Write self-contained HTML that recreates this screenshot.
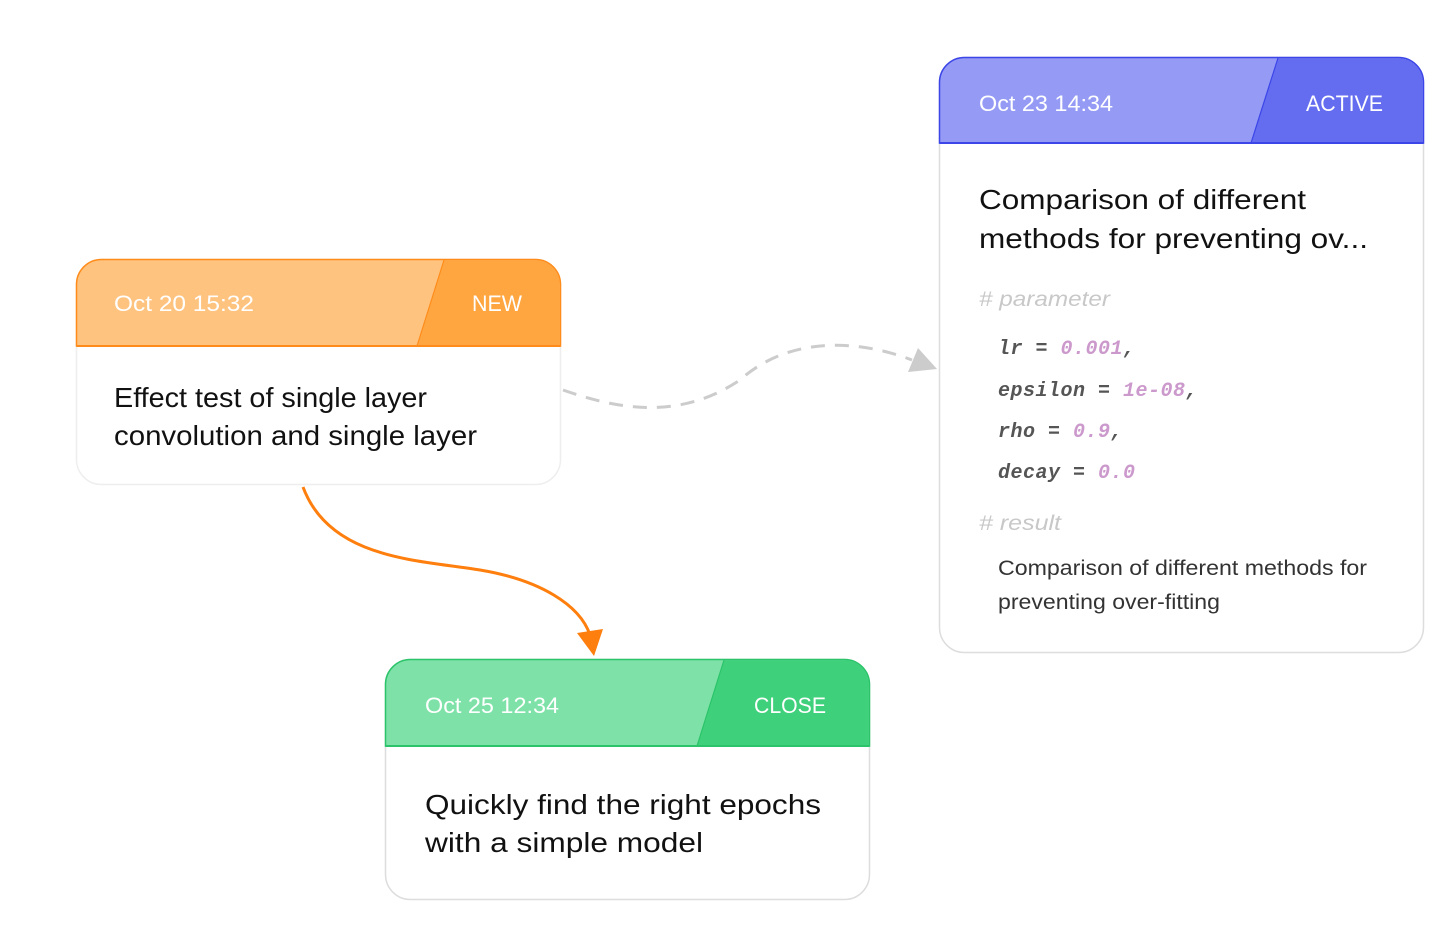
<!DOCTYPE html>
<html><head><meta charset="utf-8"><style>
html,body{margin:0;padding:0;background:#fff}
svg text{font-family:"Liberation Sans",sans-serif}
.code{font-family:"Liberation Mono",monospace;font-weight:bold;font-style:italic;font-size:20px;letter-spacing:0.5px}
</style></head><body>
<svg width="1452" height="932" viewBox="0 0 1452 932">
<!-- connectors -->
<path d="M563,390 C620,410 680,420 740,380 C790,335 860,340 912,360" fill="none" stroke="#ccc" stroke-width="3" stroke-dasharray="14,10"/>
<path d="M908,372 L937,369 L918,348 Z" fill="#ccc"/>
<path d="M303,487 C330,560 420,560 480,570 C540,580 580,605 590,635" fill="none" stroke="#FF7F0E" stroke-width="3"/>
<path d="M577,633 L603,629 L594,656 Z" fill="#FF7F0E"/>

<!-- orange card -->
<g>
<rect x="76.5" y="259.5" width="484" height="225" rx="25" fill="#fff" stroke="#eee" stroke-width="1.5"/>
<path d="M76.5,346 V284.5 A25,25 0 0 1 101.5,259.5 H535.5 A25,25 0 0 1 560.5,284.5 V346 Z" fill="#FFC380" stroke="#FF8C1A" stroke-width="1.5"/>
<path d="M444,260.2 H535.5 A24.3,24.3 0 0 1 559.8,284.5 V345.3 H417 Z" fill="#FFA640"/>
<path d="M444,260 L417,346" stroke="#FF8C1A" stroke-width="1.2"/>
<line x1="76.5" y1="346" x2="560.5" y2="346" stroke="#FF8C1A" stroke-width="2"/>
<text x="114" y="311" font-size="22" fill="#fff" textLength="140" lengthAdjust="spacingAndGlyphs">Oct 20  15:32</text>
<text x="472" y="311" font-size="22" fill="#fff" textLength="50" lengthAdjust="spacingAndGlyphs">NEW</text>
<text x="114" y="407" font-size="28" fill="#111" textLength="313" lengthAdjust="spacingAndGlyphs">Effect test of single layer</text>
<text x="114" y="445" font-size="28" fill="#111" textLength="363" lengthAdjust="spacingAndGlyphs">convolution and single layer</text>
</g>

<!-- purple card -->
<g>
<rect x="939.5" y="57.5" width="484" height="595" rx="25" fill="#fff" stroke="#ddd" stroke-width="1.5"/>
<path d="M939.5,143 V82.5 A25,25 0 0 1 964.5,57.5 H1398.5 A25,25 0 0 1 1423.5,82.5 V143 Z" fill="#959BF5" stroke="#3B45E8" stroke-width="1.5"/>
<path d="M1278,58.2 H1398.5 A24.3,24.3 0 0 1 1422.8,82.5 V142.3 H1251 Z" fill="#646DF0"/>
<path d="M1278,58 L1251,143" stroke="#3B45E8" stroke-width="1.2"/>
<line x1="939.5" y1="143" x2="1423.5" y2="143" stroke="#3B45E8" stroke-width="2"/>
<text x="979" y="111" font-size="22" fill="#fff" textLength="134" lengthAdjust="spacingAndGlyphs">Oct 23 14:34</text>
<text x="1306" y="111" font-size="22" fill="#fff" textLength="77" lengthAdjust="spacingAndGlyphs">ACTIVE</text>
<text x="979" y="209" font-size="28" fill="#111" textLength="327" lengthAdjust="spacingAndGlyphs">Comparison of different</text>
<text x="979" y="248" font-size="28" fill="#111" textLength="389" lengthAdjust="spacingAndGlyphs">methods for preventing ov...</text>
<text x="979" y="306" font-size="21" font-style="italic" fill="#c8c8c8" textLength="131" lengthAdjust="spacingAndGlyphs"># parameter</text>
<text class="code" x="998" y="354" fill="#555">lr = <tspan fill="#CC99CC">0.001</tspan>,</text>
<text class="code" x="998" y="396" fill="#555">epsilon = <tspan fill="#CC99CC">1e-08</tspan>,</text>
<text class="code" x="998" y="437" fill="#555">rho = <tspan fill="#CC99CC">0.9</tspan>,</text>
<text class="code" x="998" y="478" fill="#555">decay = <tspan fill="#CC99CC">0.0</tspan></text>
<text x="979" y="530" font-size="21" font-style="italic" fill="#c8c8c8" textLength="82" lengthAdjust="spacingAndGlyphs"># result</text>
<text x="998" y="575" font-size="21" fill="#333" textLength="369" lengthAdjust="spacingAndGlyphs">Comparison of different methods for</text>
<text x="998" y="609" font-size="21" fill="#333" textLength="222" lengthAdjust="spacingAndGlyphs">preventing over-fitting</text>
</g>

<!-- green card -->
<g>
<rect x="385.5" y="659.5" width="484" height="240" rx="25" fill="#fff" stroke="#ddd" stroke-width="1.5"/>
<path d="M385.5,746 V684.5 A25,25 0 0 1 410.5,659.5 H844.5 A25,25 0 0 1 869.5,684.5 V746 Z" fill="#7EE2A8" stroke="#2BC46A" stroke-width="1.5"/>
<path d="M724,660.2 H844.5 A24.3,24.3 0 0 1 868.8,684.5 V745.3 H697 Z" fill="#3ED07A"/>
<path d="M724,660 L697,746" stroke="#2BC46A" stroke-width="1.2"/>
<line x1="385.5" y1="746" x2="869.5" y2="746" stroke="#2BC46A" stroke-width="2"/>
<text x="425" y="713" font-size="22" fill="#fff" textLength="134" lengthAdjust="spacingAndGlyphs">Oct 25 12:34</text>
<text x="754" y="713" font-size="22" fill="#fff" textLength="72" lengthAdjust="spacingAndGlyphs">CLOSE</text>
<text x="425" y="814" font-size="28" fill="#111" textLength="396" lengthAdjust="spacingAndGlyphs">Quickly find the right epochs</text>
<text x="425" y="852" font-size="28" fill="#111" textLength="278" lengthAdjust="spacingAndGlyphs">with a simple model</text>
</g>
</svg>
</body></html>
